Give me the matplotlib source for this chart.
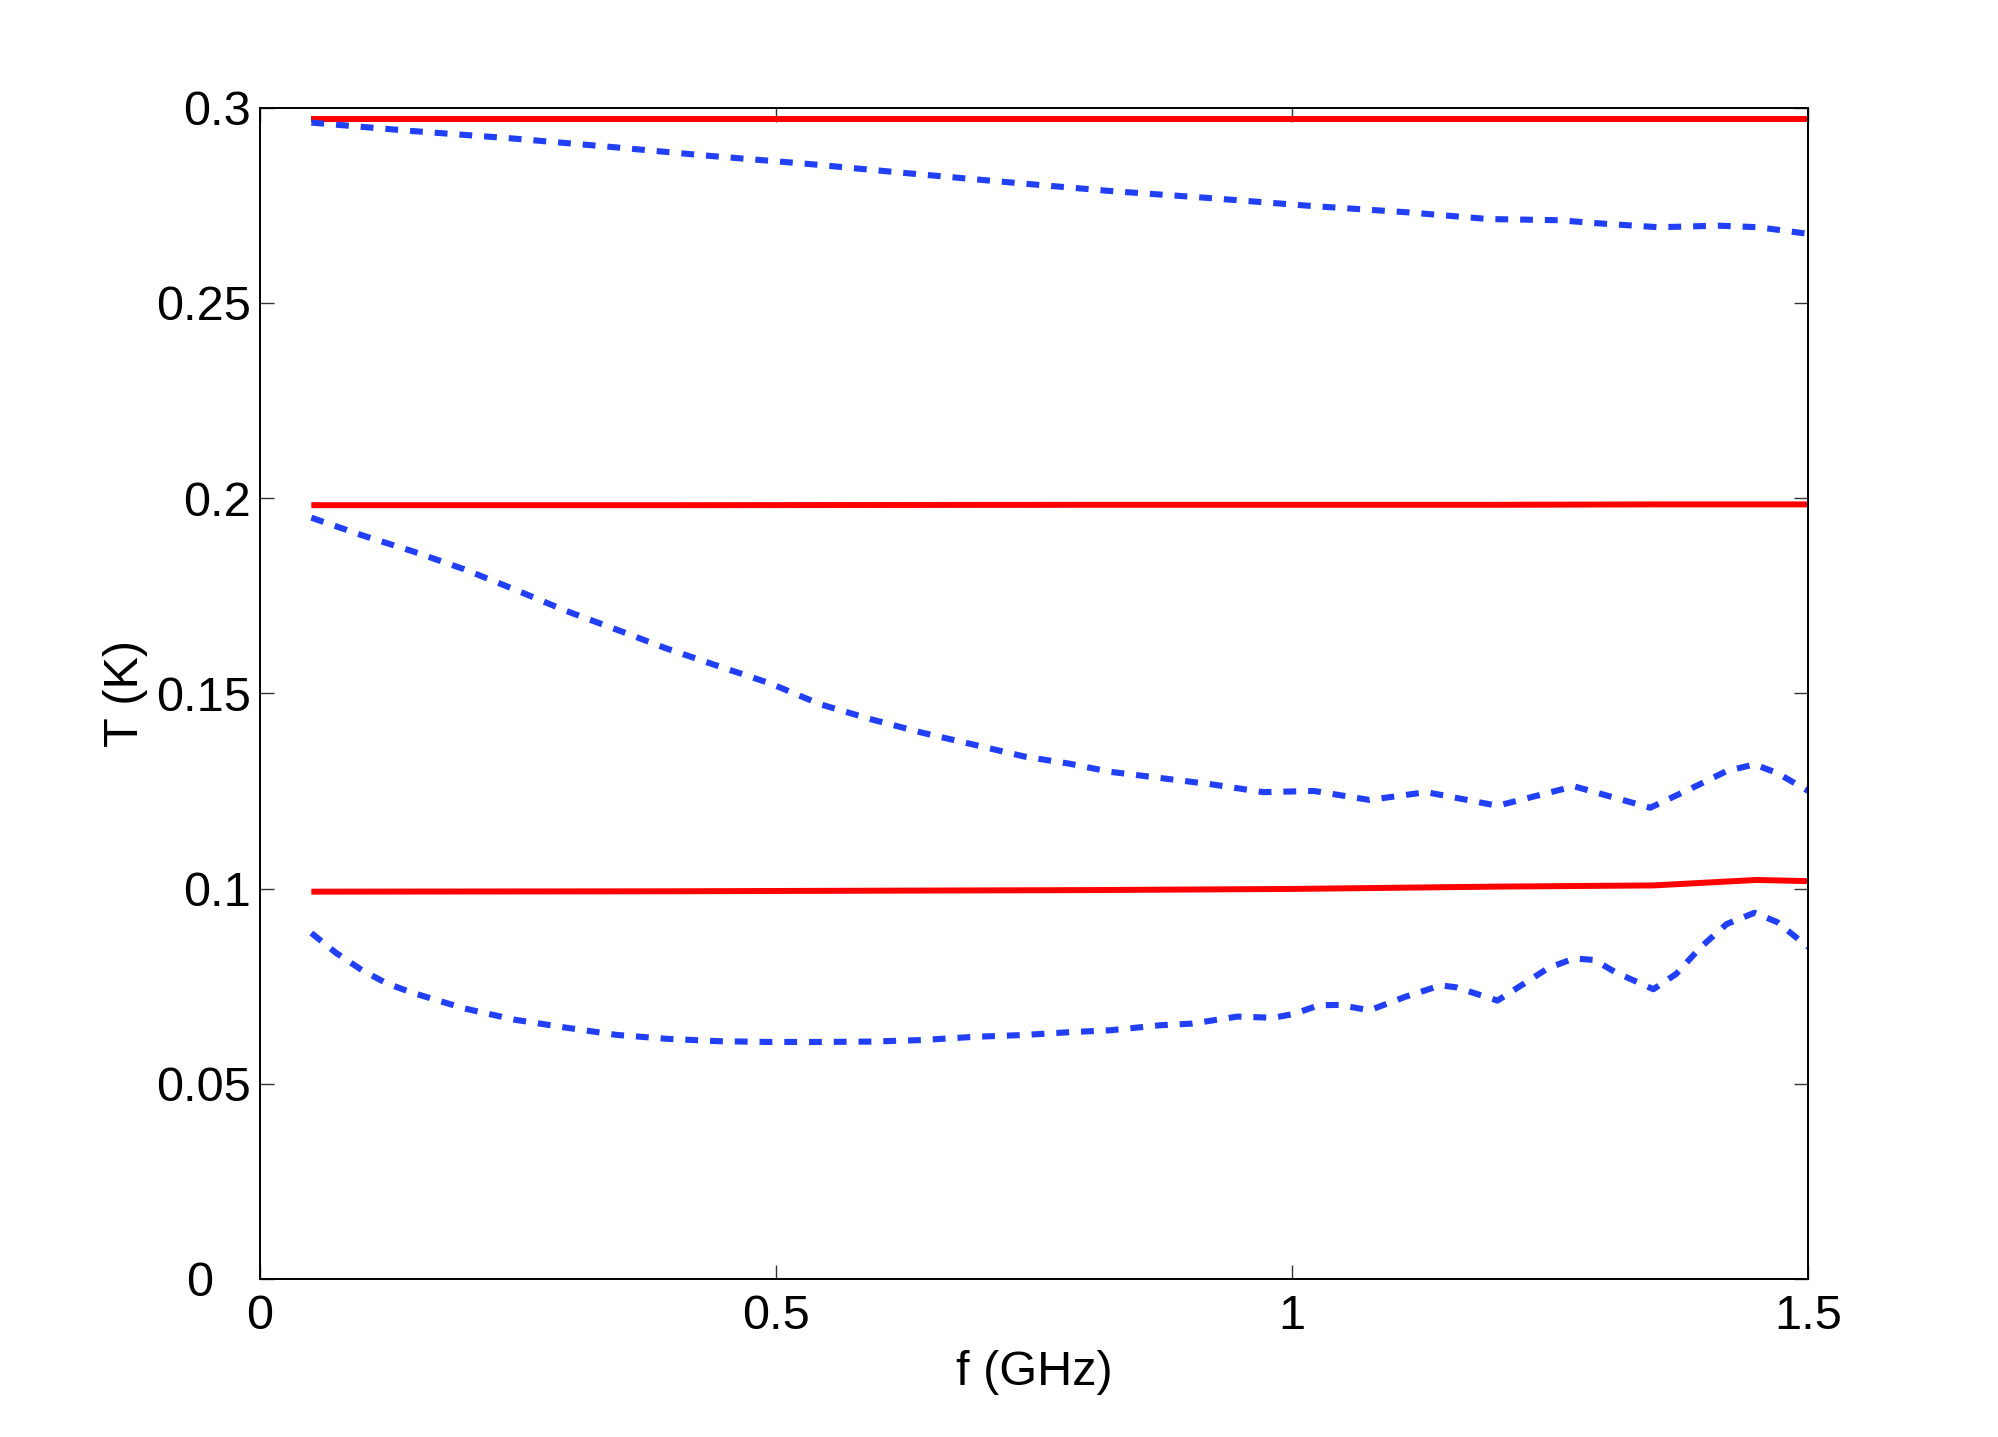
import numpy as np
import matplotlib.pyplot as plt
from matplotlib.ticker import FuncFormatter
from matplotlib.transforms import ScaledTranslation

plt.rcParams['font.family'] = ['Liberation Sans', 'DejaVu Sans']

# solid (red) curves
f_red = [0.05, 0.4, 0.8, 1.0, 1.2, 1.35, 1.45, 1.5]
T_red_hi = [0.2972, 0.2972, 0.2972, 0.2972, 0.2972, 0.2972, 0.2972, 0.2972]
T_red_mid = [0.1982, 0.1982, 0.1983, 0.1983, 0.1983, 0.1984, 0.1984, 0.1984]
T_red_lo = [0.0992, 0.0993, 0.0996, 0.0999, 0.1005, 0.1008, 0.1022, 0.1019]

# dashed (blue) curves
f_hi = [0.05, 0.145, 0.242, 0.339, 0.435, 0.532, 0.629, 0.726, 0.823, 0.919,
        1.016, 1.113, 1.19, 1.258, 1.297, 1.355, 1.413, 1.452, 1.5]
T_hi = [0.2962, 0.2941, 0.2922, 0.2900, 0.2877, 0.2856, 0.2832, 0.2809, 0.2787, 0.2769,
        0.2749, 0.2732, 0.2715, 0.2712, 0.2704, 0.2694, 0.2698, 0.2694, 0.2677]

f_mid = [0.05, 0.099, 0.148, 0.198, 0.247, 0.296, 0.346, 0.395, 0.444, 0.494,
         0.543, 0.593, 0.642, 0.691, 0.741, 0.784, 0.824, 0.873, 0.922, 0.972,
         1.021, 1.075, 1.130, 1.199, 1.273, 1.347, 1.391, 1.421, 1.448, 1.470, 1.5]
T_mid = [0.1950, 0.1905, 0.1864, 0.1818, 0.1766, 0.1712, 0.1663, 0.1614, 0.1570, 0.1526,
         0.1472, 0.1433, 0.1399, 0.1369, 0.1338, 0.1320, 0.1299, 0.1283, 0.1267, 0.1247,
         0.1250, 0.1227, 0.1247, 0.1212, 0.1262, 0.1207, 0.1262, 0.1301, 0.1318, 0.1296, 0.1250]

f_lo = [0.05, 0.074, 0.099, 0.123, 0.148, 0.198, 0.247, 0.296, 0.346, 0.395,
        0.444, 0.494, 0.543, 0.593, 0.642, 0.691, 0.741, 0.784, 0.824, 0.873,
        0.903, 0.947, 0.982, 1.002, 1.026, 1.046, 1.075, 1.110, 1.144, 1.159, 1.199,
        1.228, 1.248, 1.273, 1.293, 1.313, 1.350, 1.372, 1.396, 1.421, 1.448, 1.470, 1.5]
T_lo = [0.0886, 0.0835, 0.0791, 0.0757, 0.0733, 0.0693, 0.0664, 0.0644, 0.0625, 0.0615,
        0.0609, 0.0607, 0.0607, 0.0608, 0.0612, 0.0620, 0.0625, 0.0632, 0.0637, 0.0650,
        0.0654, 0.0672, 0.0669, 0.0679, 0.0701, 0.0702, 0.0688, 0.0723, 0.0752, 0.0747, 0.0713,
        0.0762, 0.0796, 0.0821, 0.0817, 0.0786, 0.0742, 0.0781, 0.0850, 0.0909, 0.0938, 0.0914, 0.0850]

red = '#ff0000'
blue = '#2140f5'

fig = plt.figure(figsize=(19.98, 14.37), dpi=100)
ax = fig.add_axes([0.13, 0.11, 0.775, 0.815])

for T in (T_red_hi, T_red_mid, T_red_lo):
    ax.plot(f_red, T, color=red, lw=4.3, solid_capstyle='butt')
for f, T in ((f_hi, T_hi), (f_mid, T_mid), (f_lo, T_lo)):
    ax.plot(f, T, color=blue, lw=4.4, ls='--', dashes=(2.1, 1.95))

ax.set_xlim(0, 1.5)
ax.set_ylim(0, 0.3)
ax.set_xticks([0, 0.5, 1, 1.5])
ax.set_yticks(np.arange(0, 0.301, 0.05))
fmt = FuncFormatter(lambda v, p: '%g' % round(v, 4))
ax.xaxis.set_major_formatter(fmt)
ax.yaxis.set_major_formatter(fmt)
ax.tick_params(direction='in', length=10, width=1.0, color='#333333',
               top=True, right=True, labelsize=35)
ax.tick_params(axis='x', pad=11)
ax.tick_params(axis='y', pad=6.5)
for s in ax.spines.values():
    s.set_linewidth(1.4)

# matlab pushes the y "0" label left, away from the x "0"
fig.canvas.draw()
ylab0 = ax.get_yticklabels()[0]
ylab0.set_transform(ylab0.get_transform() + ScaledTranslation(-0.38, 0, fig.dpi_scale_trans))

ax.set_xlabel('f (GHz)', fontsize=35, labelpad=8)
ax.set_ylabel('T (K)', fontsize=35, labelpad=5.5)

plt.savefig('out.png', dpi=100)
